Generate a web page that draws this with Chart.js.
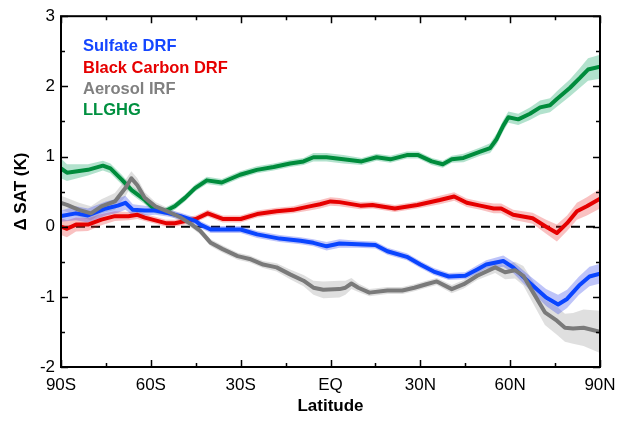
<!DOCTYPE html>
<html>
<head>
<meta charset="utf-8">
<script src="https://cdn.jsdelivr.net/npm/chart.js@4.4.1/dist/chart.umd.min.js"></script>
<style>
  html, body { margin: 0; padding: 0; background: #fff; }
</style>
</head>
<body>
<canvas id="sat-chart" width="627" height="421"></canvas>
<script>
const xTickValues = [-90, -60, -30, 0, 30, 60, 90];
const xTickLabels = ['90S', '60S', '30S', 'EQ', '30N', '60N', '90N'];

// Sulfate DRF
const sulfateLat = [-90, -85, -81, -75, -71, -68.5, -66, -62, -58.5, -54, -50, -45, -43.5, -40, -36, -30, -24.5, -17, -10, -5.7,
  -1.3, 3, 9, 15, 19, 25.5, 30, 34.5, 39.5, 45, 49, 52, 57.7, 61, 66.5, 72, 76, 79, 83, 86.5, 90];
const sulfateVal = [0.15, 0.19, 0.16, 0.26, 0.30, 0.34, 0.24, 0.23, 0.23, 0.19, 0.15, 0.08, 0.03, -0.04, -0.04, -0.04, -0.11, -0.17, -0.20, -0.23,
  -0.28, -0.24, -0.25, -0.26, -0.35, -0.43, -0.54, -0.64, -0.71, -0.70, -0.61, -0.54, -0.49, -0.58, -0.80, -1.01, -1.11, -1.03, -0.84, -0.71, -0.67];
const sulfateSpread = [0.08, 0.1, 0.1, 0.1, 0.1, 0.1, 0.08, 0.07, 0.06, 0.05, 0.05, 0.05, 0.05, 0.05, 0.05, 0.05, 0.05, 0.05, 0.05, 0.05,
  0.06, 0.06, 0.05, 0.05, 0.05, 0.05, 0.05, 0.05, 0.05, 0.05, 0.06, 0.06, 0.08, 0.08, 0.1, 0.12, 0.14, 0.13, 0.13, 0.14, 0.14];

// Black Carbon DRF
const bcLat = [-90, -88, -85, -81, -76.5, -72, -67.5, -64.5, -62, -58.5, -55, -52, -48.5, -45, -41, -36, -30, -24.5, -18, -12.5,
  -7, -3.5, 0, 3, 10, 14, 21.5, 29, 36.5, 41.3, 45.5, 50, 54.5, 57, 61, 67.5, 72, 75.6, 79, 82.3, 85.6, 90];
const bcVal = [0.0, -0.03, 0.03, 0.03, 0.10, 0.15, 0.15, 0.17, 0.13, 0.09, 0.05, 0.05, 0.08, 0.11, 0.19, 0.11, 0.11, 0.18, 0.22, 0.24,
  0.29, 0.32, 0.36, 0.35, 0.30, 0.31, 0.26, 0.31, 0.38, 0.43, 0.34, 0.30, 0.26, 0.26, 0.17, 0.12, 0.0, -0.09, 0.05, 0.22, 0.29, 0.40];
const bcSpread = [0.12, 0.12, 0.1, 0.09, 0.08, 0.07, 0.06, 0.06, 0.05, 0.05, 0.05, 0.05, 0.05, 0.05, 0.05, 0.05, 0.05, 0.05, 0.05, 0.05,
  0.06, 0.06, 0.06, 0.06, 0.05, 0.05, 0.05, 0.05, 0.06, 0.06, 0.06, 0.06, 0.07, 0.07, 0.07, 0.08, 0.1, 0.12, 0.11, 0.12, 0.13, 0.14];

// Aerosol IRF
const irfLat = [-90, -88, -84, -80, -76.5, -72, -68.5, -66.5, -64.5, -62, -58.5, -54, -50, -46, -43.5, -40, -36, -31, -27, -22.5,
  -18, -13.5, -9, -5.7, -2.4, 3, 5, 7, 9.3, 13, 19, 24, 28, 32, 35.5, 40.5, 44.5, 49, 55, 58.3,
  61.6, 64.4, 67.7, 71.6, 75.6, 78.3, 81, 84.5, 90];
const irfVal = [0.34, 0.31, 0.24, 0.19, 0.29, 0.36, 0.55, 0.69, 0.59, 0.41, 0.29, 0.21, 0.13, 0.02, -0.06, -0.23, -0.32, -0.42, -0.46, -0.54,
  -0.58, -0.68, -0.77, -0.87, -0.90, -0.89, -0.87, -0.81, -0.87, -0.94, -0.91, -0.91, -0.87, -0.82, -0.78, -0.89, -0.82, -0.70, -0.58, -0.65,
  -0.62, -0.70, -0.94, -1.22, -1.34, -1.44, -1.45, -1.44, -1.50];
const irfSpread = [0.1, 0.1, 0.1, 0.1, 0.1, 0.12, 0.12, 0.1, 0.1, 0.08, 0.06, 0.05, 0.05, 0.05, 0.05, 0.05, 0.05, 0.05, 0.05, 0.05,
  0.06, 0.07, 0.08, 0.1, 0.12, 0.12, 0.1, 0.08, 0.06, 0.05, 0.05, 0.05, 0.05, 0.05, 0.05, 0.06, 0.06, 0.06, 0.08, 0.1,
  0.12, 0.14, 0.16, 0.18, 0.2, 0.2, 0.22, 0.26, 0.3];

// LLGHG
const ghgLat = [-90, -88, -81, -76, -73.5, -69.7, -66.4, -62, -58.6, -55.3, -52, -48.6, -45.2, -41.3, -36.3, -30.2, -24.6, -19, -13.5, -9,
  -5.7, -1.3, 4.3, 10.4, 15.4, 20, 25.5, 29.3, 33.8, 37.5, 40.5, 44.4, 50, 53.3, 55.5, 57.7, 59.4, 62.7, 66.6, 70,
  73.3, 75.6, 80, 83.3, 86, 90];
const ghgVal = [0.83, 0.77, 0.81, 0.87, 0.83, 0.67, 0.52, 0.38, 0.24, 0.22, 0.29, 0.41, 0.55, 0.66, 0.63, 0.74, 0.81, 0.85, 0.90, 0.93,
  0.99, 0.99, 0.96, 0.93, 0.99, 0.96, 1.02, 1.02, 0.93, 0.89, 0.96, 0.98, 1.07, 1.12, 1.25, 1.44, 1.56, 1.53, 1.61, 1.70,
  1.73, 1.82, 1.98, 2.12, 2.24, 2.28];
const ghgSpread = [0.14, 0.12, 0.08, 0.07, 0.07, 0.07, 0.06, 0.06, 0.05, 0.05, 0.05, 0.05, 0.05, 0.05, 0.05, 0.05, 0.05, 0.05, 0.05, 0.05,
  0.06, 0.06, 0.06, 0.05, 0.05, 0.05, 0.05, 0.05, 0.05, 0.05, 0.05, 0.06, 0.06, 0.07, 0.08, 0.08, 0.08, 0.08, 0.09, 0.1,
  0.1, 0.11, 0.12, 0.14, 0.16, 0.17];

const series = [
  { label: 'Sulfate DRF', lat: sulfateLat, val: sulfateVal, spread: sulfateSpread, line: '#0a45ff', band: 'rgba(40,60,235,0.3)', text: '#1446ff', order: 2 },
  { label: 'Black Carbon DRF', lat: bcLat, val: bcVal, spread: bcSpread, line: '#e60000', band: 'rgba(235,50,50,0.3)', text: '#e60000', order: 3 },
  { label: 'Aerosol IRF', lat: irfLat, val: irfVal, spread: irfSpread, line: '#7a7a7a', band: 'rgba(150,150,150,0.3)', text: '#808080', order: 1 },
  { label: 'LLGHG', lat: ghgLat, val: ghgVal, spread: ghgSpread, line: '#008c3c', band: 'rgba(0,160,90,0.3)', text: '#009040', order: 4 }
];

const FONT = '"Liberation Sans", Arial, Helvetica, sans-serif';

const datasets = [];
series.forEach(s => {
  datasets.push({
    label: s.label + ' upper',
    data: s.lat.map((x, i) => ({ x: x, y: s.val[i] + s.spread[i] })),
    fill: '+1', backgroundColor: s.band, borderWidth: 0, pointRadius: 0, order: 10
  });
  datasets.push({
    label: s.label + ' lower',
    data: s.lat.map((x, i) => ({ x: x, y: s.val[i] - s.spread[i] })),
    fill: false, borderWidth: 0, pointRadius: 0, order: 10
  });
});
series.forEach(s => {
  datasets.push({
    label: s.label,
    data: s.lat.map((x, i) => ({ x: x, y: s.val[i] })),
    borderColor: s.line, borderWidth: 4, pointRadius: 0, fill: false,
    borderJoinStyle: 'round', borderCapStyle: 'round', order: s.order
  });
});

// dashed zero line, inner ticks, frame and text legend
const decor = {
  id: 'decor',
  beforeDatasetsDraw(chart) {
    const { ctx, chartArea: a, scales: { y } } = chart;
    const py = y.getPixelForValue(0);
    ctx.save();
    ctx.strokeStyle = '#000';
    ctx.lineWidth = 2;
    ctx.setLineDash([9, 6]);
    ctx.beginPath();
    ctx.moveTo(a.left, py);
    ctx.lineTo(a.right, py);
    ctx.stroke();
    ctx.restore();
  },
  afterDraw(chart) {
    const { ctx, chartArea: a, scales: { x, y } } = chart;
    ctx.save();
    ctx.strokeStyle = '#000';
    ctx.lineWidth = 1.5;
    ctx.beginPath();
    for (let v = x.min; v <= x.max; v += 15) {
      const px = Math.round(x.getPixelForValue(v)) + 0.5;
      const len = v % 30 === 0 ? 7 : 4;
      ctx.moveTo(px, a.bottom); ctx.lineTo(px, a.bottom - len);
      ctx.moveTo(px, a.top); ctx.lineTo(px, a.top + len);
    }
    for (let v = y.min; v <= y.max; v += 0.5) {
      const py = Math.round(y.getPixelForValue(v)) + 0.5;
      const len = v % 1 === 0 ? 7 : 4;
      ctx.moveTo(a.left, py); ctx.lineTo(a.left + len, py);
      ctx.moveTo(a.right, py); ctx.lineTo(a.right - len, py);
    }
    ctx.stroke();
    ctx.lineWidth = 2;
    ctx.strokeRect(a.left, a.top, a.right - a.left, a.bottom - a.top);

    ctx.font = 'bold 16.5px ' + FONT;
    ctx.textAlign = 'left';
    ctx.textBaseline = 'alphabetic';
    series.forEach((s, i) => {
      ctx.fillStyle = s.text;
      ctx.fillText(s.label, a.left + 22, a.top + 35 + i * 21.3);
    });
    ctx.restore();
  }
};

new Chart(document.getElementById('sat-chart').getContext('2d'), {
  type: 'line',
  data: { datasets: datasets },
  plugins: [decor],
  options: {
    responsive: false,
    animation: false,
    layout: { padding: { left: 0, right: 27, top: 13, bottom: 0 } },
    plugins: { legend: { display: false }, tooltip: { enabled: false } },
    scales: {
      x: {
        type: 'linear', min: -90, max: 90,
        afterFit: s => { s.height = 54; },
        grid: { display: false, drawTicks: false },
        border: { display: false },
        ticks: {
          stepSize: 30, padding: 8, color: '#000', maxRotation: 0,
          font: { family: FONT, size: 17 },
          callback: v => xTickLabels[xTickValues.indexOf(v)]
        },
        title: {
          display: true, text: 'Latitude', color: '#000',
          font: { family: FONT, size: 17, weight: 'bold' },
          padding: { top: 0, bottom: 4 }
        }
      },
      y: {
        min: -2, max: 3,
        afterFit: s => { s.width = 61; },
        grid: { display: false, drawTicks: false },
        border: { display: false },
        ticks: {
          stepSize: 1, padding: 6, color: '#000',
          font: { family: FONT, size: 17 },
          callback: v => String(v)
        },
        title: {
          display: true, text: 'Δ SAT (K)', color: '#000',
          font: { family: FONT, size: 17, weight: 'bold' },
          padding: { top: 11, bottom: 0 }
        }
      }
    }
  }
});
</script>
</body>
</html>
